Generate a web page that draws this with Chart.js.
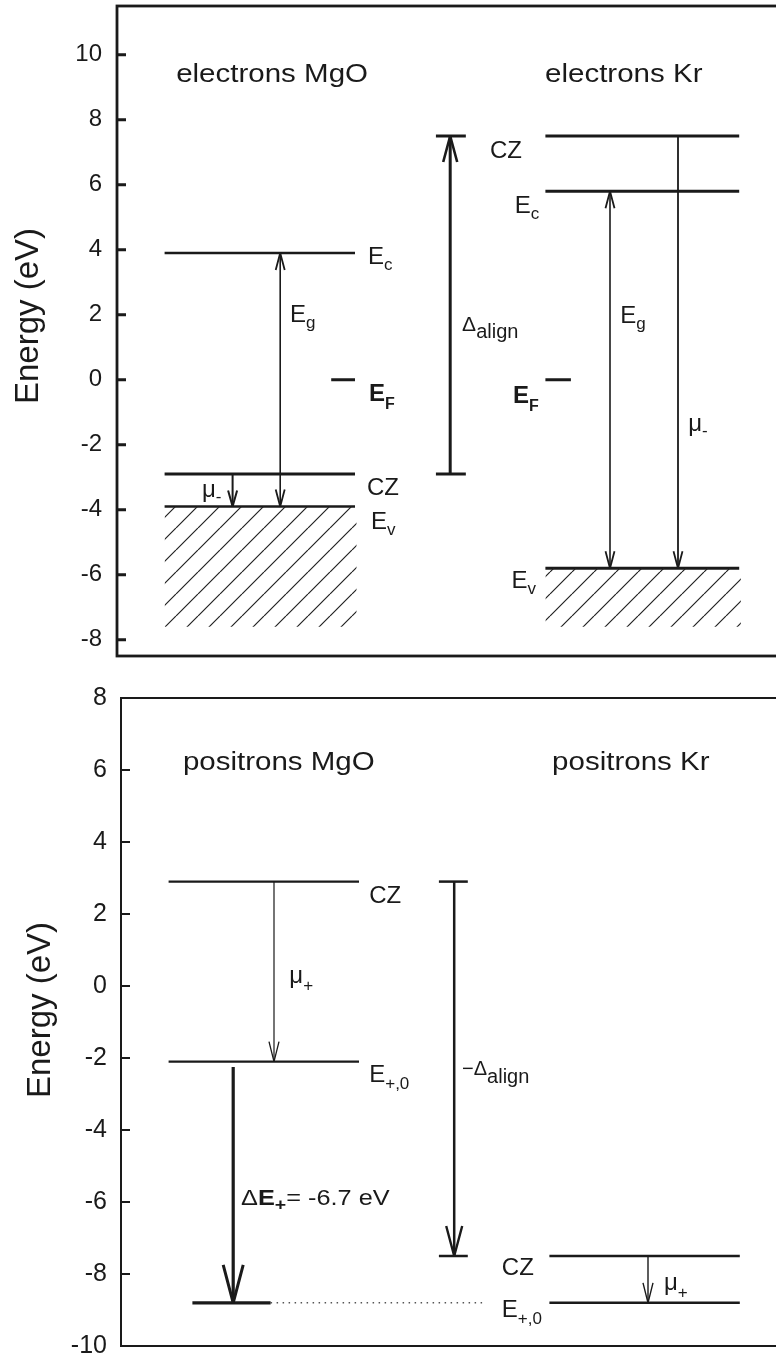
<!DOCTYPE html>
<html>
<head>
<meta charset="utf-8">
<script src="https://cdn.jsdelivr.net/npm/chart.js@4.4.0/dist/chart.umd.min.js"></script>
<style>
  html, body { margin: 0; padding: 0; background: #fff; overflow: hidden; }
  #wrap { position: relative; width: 776px; height: 1358px; overflow: hidden; }
  #electrons { position: absolute; left: 0; top: 0; }
  #positrons { position: absolute; left: 0; top: 660px; }
</style>
</head>
<body>
<div id="wrap">
  <canvas id="electrons" width="797" height="660"></canvas>
  <canvas id="positrons" width="801" height="698"></canvas>
</div>
<script>
// electrons panel, level energies in eV: Ec, CZ, Ev, EF
const eLevels = ['Ec', 'CZ', 'Ev', 'EF'];
const eMgO = [3.9, -2.9, -3.9, 0];
const eKr = [5.8, 7.5, -5.8, 0];
const eTicks = [-8, -6, -4, -2, 0, 2, 4, 6, 8, 10];
const eRange = [-8.5, 11.5];
const valenceFloor = -7.6;

// positrons panel, level energies in eV: CZ, E+,0
const pLevels = ['CZ', 'E+,0'];
const pMgO = [2.9, -2.1];
const pKr = [-7.5, -8.8];
const pTicks = [-10, -8, -6, -4, -2, 0, 2, 4, 6, 8];
const pRange = [-10, 8];
const dEplus = -6.7;

const FONT = "'Liberation Sans', Arial, Helvetica, sans-serif";
const INK = '#1a1a1a';

// horizontal spans of the two material columns (x axis is hidden, 0..20)
const MGO = [1.4, 7.0];
const KR = [12.6, 18.3];
const KR_P = [12.6, 18.2];

function seg(x0, x1, y0, y1, width, extra) {
    return Object.assign({
        data: [{x: x0, y: y0}, {x: x1, y: y1}],
        borderColor: INK,
        borderWidth: width,
        pointRadius: 0,
        pointHoverRadius: 0,
        fill: false,
        tension: 0
    }, extra || {});
}

function level(span, y, w) {
    return seg(span[0], span[1], y, y, w);
}

function makeHatch() {
    let c = document.createElement('canvas');
    c.width = 22;
    c.height = 22;
    let g = c.getContext('2d');
    g.strokeStyle = '#222';
    g.lineWidth = 1.2;
    g.beginPath();
    for (let k = -1; k <= 1; k++) {
        g.moveTo(k * 22, 22);
        g.lineTo(k * 22 + 22, 0);
    }
    g.stroke();
    return g.createPattern(c, 'repeat');
}

function drawRuns(ctx, px, py, runs, sx) {
    ctx.save();
    ctx.translate(px, py);
    ctx.scale(sx || 1, 1);
    ctx.textAlign = 'left';
    ctx.textBaseline = 'alphabetic';
    ctx.fillStyle = INK;
    let cx = 0;
    for (const [t, size, dy, bold] of runs) {
        ctx.font = (bold ? 'bold ' : '') + size + 'px ' + FONT;
        ctx.fillText(t, cx, dy || 0);
        cx += ctx.measureText(t).width;
    }
    ctx.restore();
}

// frame, inward ticks, axis title, arrow heads and labels
function decorPlugin(cfg) {
    return {
        id: 'decor',
        afterDraw(chart) {
            const {ctx, chartArea: a} = chart;
            const xs = chart.scales.x, ys = chart.scales.y;
            ctx.save();
            ctx.strokeStyle = INK;
            ctx.lineWidth = cfg.frame;
            ctx.strokeRect(a.left, a.top, a.right - a.left, a.bottom - a.top);
            ctx.beginPath();
            ys.ticks.forEach(t => {
                let py = ys.getPixelForValue(t.value);
                ctx.moveTo(a.left, py);
                ctx.lineTo(a.left + 9, py);
            });
            ctx.stroke();

            // arrow heads
            ctx.lineJoin = 'miter';
            ctx.miterLimit = 2;
            cfg.arrows.forEach(ar => {
                let px = xs.getPixelForValue(ar.x);
                let ends = ar.both ? [[ar.to, ar.from], [ar.from, ar.to]] : [[ar.to, ar.from]];
                ends.forEach(([tip, tail]) => {
                    let ty = ys.getPixelForValue(tip);
                    let dir = Math.sign(ys.getPixelForValue(tail) - ty);
                    ctx.lineWidth = ar.hw;
                    ctx.beginPath();
                    ctx.moveTo(px - ar.half, ty + dir * ar.len);
                    ctx.lineTo(px, ty);
                    ctx.lineTo(px + ar.half, ty + dir * ar.len);
                    ctx.stroke();
                });
            });

            // axis title
            ctx.translate(cfg.titleX, (a.top + a.bottom) / 2 + cfg.titleShift);
            ctx.rotate(-Math.PI / 2);
            ctx.font = '33px ' + FONT;
            ctx.fillStyle = INK;
            ctx.textAlign = 'center';
            ctx.textBaseline = 'alphabetic';
            ctx.fillText('Energy (eV)', 0, 0);
            ctx.restore();

            cfg.texts.forEach(t => {
                drawRuns(ctx, xs.getPixelForValue(t.x), ys.getPixelForValue(t.y), t.runs, t.sx);
            });
        }
    };
}

function buildOptions(ticks, range, axisWidth, tickPad, tickSize, padding) {
    return {
        responsive: false,
        animation: false,
        events: [],
        layout: {padding: padding},
        plugins: {legend: {display: false}, tooltip: {enabled: false}},
        scales: {
            x: {type: 'linear', min: 0, max: 20, display: false},
            y: {
                type: 'linear',
                min: range[0],
                max: range[1],
                afterBuildTicks: s => { s.ticks = ticks.map(v => ({value: v})); },
                afterFit: s => {
                    s.width = axisWidth;
                    s.paddingTop = 0;
                    s.paddingBottom = 0;
                },
                grid: {display: false, drawTicks: false},
                border: {display: false},
                ticks: {
                    autoSkip: false,
                    padding: tickPad,
                    color: INK,
                    font: {family: FONT, size: tickSize}
                }
            }
        }
    };
}

function buildElectrons() {
    let hatch = makeHatch();
    let arrows = [
        {x: 4.8, from: eMgO[2], to: eMgO[0], both: true, len: 17, half: 4.5, hw: 1.8, w: 1.6},
        {x: 3.4, from: eMgO[1], to: eMgO[2], len: 16, half: 4.5, hw: 2, w: 2},
        {x: 9.8, from: eMgO[1], to: eKr[1], len: 26, half: 7, hw: 2.6, w: 3},
        {x: 14.5, from: eKr[2], to: eKr[0], both: true, len: 17, half: 4.5, hw: 1.8, w: 1.6},
        {x: 16.5, from: eKr[1], to: eKr[2], len: 17, half: 4.5, hw: 1.8, w: 1.8}
    ];
    let clear = 'rgba(0,0,0,0)';
    let datasets = [
        seg(MGO[0], MGO[1] + 0.05, eMgO[2], eMgO[2], 1, {borderColor: clear, fill: {value: valenceFloor}, backgroundColor: hatch}),
        seg(KR[0], KR[1] + 0.05, eKr[2], eKr[2], 1, {borderColor: clear, fill: {value: valenceFloor}, backgroundColor: hatch}),
        level(MGO, eMgO[0], 2.6),
        level(MGO, eMgO[1], 3),
        level(MGO, eMgO[2], 2.6),
        seg(6.3, MGO[1], eMgO[3], eMgO[3], 3),
        level(KR, eKr[0], 3),
        level(KR, eKr[1], 3),
        level(KR, eKr[2], 3),
        seg(KR[0], 13.35, eKr[3], eKr[3], 3),
        seg(9.38, 10.26, eMgO[1], eMgO[1], 3),
        seg(9.38, 10.26, eKr[1], eKr[1], 3)
    ];
    arrows.forEach(ar => datasets.push(seg(ar.x, ar.x, ar.from, ar.to, ar.w)));

    let texts = [
        {x: 1.74, y: 9.15, sx: 1.18, runs: [['electrons MgO', 25]]},
        {x: 12.59, y: 9.15, sx: 1.18, runs: [['electrons Kr', 25]]},
        {x: 7.38, y: 3.56, runs: [['E', 24], ['c', 17, 6]]},
        {x: 5.09, y: 1.78, runs: [['E', 24], ['g', 17, 6]]},
        {x: 7.41, y: -0.64, runs: [['E', 24, 0, true], ['F', 16, 8, true]]},
        {x: 7.35, y: -3.56, runs: [['CZ', 24]]},
        {x: 7.47, y: -4.6, runs: [['E', 24], ['v', 17, 6]]},
        {x: 2.5, y: -3.62, runs: [['μ', 24], ['-', 17, 5]]},
        {x: 10.15, y: 1.5, runs: [['Δ', 21], ['align', 20, 7]]},
        {x: 10.97, y: 6.82, runs: [['CZ', 24]]},
        {x: 11.7, y: 5.13, runs: [['E', 24], ['c', 17, 6]]},
        {x: 14.8, y: 1.75, runs: [['E', 24], ['g', 17, 6]]},
        {x: 11.65, y: -0.7, runs: [['E', 24, 0, true], ['F', 16, 8, true]]},
        {x: 16.8, y: -1.57, runs: [['μ', 24], ['-', 17, 5]]},
        {x: 11.6, y: -6.4, runs: [['E', 24], ['v', 17, 6]]}
    ];

    new Chart(document.getElementById('electrons').getContext('2d'), {
        type: 'line',
        data: {datasets: datasets},
        options: buildOptions(eTicks, eRange, 117, 15, 24, {top: 6, bottom: 4, left: 0, right: 0}),
        plugins: [decorPlugin({frame: 2.8, arrows: arrows, texts: texts, titleX: 38, titleShift: -15})]
    });
}

function buildPositrons() {
    let bottom = pMgO[1] + dEplus;
    let arrows = [
        {x: 4.5, from: pMgO[0], to: pMgO[1], len: 20, half: 5, hw: 1.3, w: 1.2},
        {x: 3.3, from: pMgO[1] - 0.15, to: bottom, len: 38, half: 10, hw: 3, w: 3.2},
        {x: 9.8, from: pMgO[0], to: pKr[0], len: 30, half: 8, hw: 2.4, w: 2.5},
        {x: 15.5, from: pKr[0], to: pKr[1], len: 20, half: 5, hw: 1.4, w: 1.4}
    ];
    let datasets = [
        level(MGO, pMgO[0], 2.3),
        level(MGO, pMgO[1], 2.3),
        seg(2.1, 4.4, bottom, bottom, 3.3),
        seg(4.4, 10.7, bottom, bottom, 1.4, {borderDash: [1.5, 4.5], borderColor: '#555'}),
        seg(9.35, 10.2, pMgO[0], pMgO[0], 2.5),
        seg(9.35, 10.2, pKr[0], pKr[0], 2.5),
        level(KR_P, pKr[0], 2.4),
        level(KR_P, pKr[1], 2.4)
    ];
    arrows.forEach(ar => datasets.push(seg(ar.x, ar.x, ar.from, ar.to, ar.w)));

    let texts = [
        {x: 1.82, y: 6.0, sx: 1.18, runs: [['positrons MgO', 25]]},
        {x: 12.68, y: 6.0, sx: 1.18, runs: [['positrons Kr', 25]]},
        {x: 7.3, y: 2.3, runs: [['CZ', 24]]},
        {x: 4.95, y: 0.08, runs: [['μ', 24], ['+', 17, 8]]},
        {x: 7.3, y: -2.67, runs: [['E', 24], ['+,0', 17, 7]]},
        {x: 3.53, y: -6.08, sx: 1.15, runs: [['Δ', 22], ['E', 22, 0, true], ['+', 17, 5, true], ['= ' + dEplus + ' eV', 22]]},
        {x: 10.03, y: -2.47, runs: [['−Δ', 20], ['align', 20, 8]]},
        {x: 11.2, y: -8.03, runs: [['CZ', 24]]},
        {x: 11.2, y: -9.19, runs: [['E', 24], ['+,0', 17, 7]]},
        {x: 15.97, y: -8.44, runs: [['μ', 24], ['+', 17, 8]]}
    ];

    new Chart(document.getElementById('positrons').getContext('2d'), {
        type: 'line',
        data: {datasets: datasets},
        options: buildOptions(pTicks, pRange, 121, 14, 25, {top: 38, bottom: 12, left: 0, right: 0}),
        plugins: [decorPlugin({frame: 2, arrows: arrows, texts: texts, titleX: 50, titleShift: -12})]
    });
}

buildElectrons();
buildPositrons();
</script>
</body>
</html>
